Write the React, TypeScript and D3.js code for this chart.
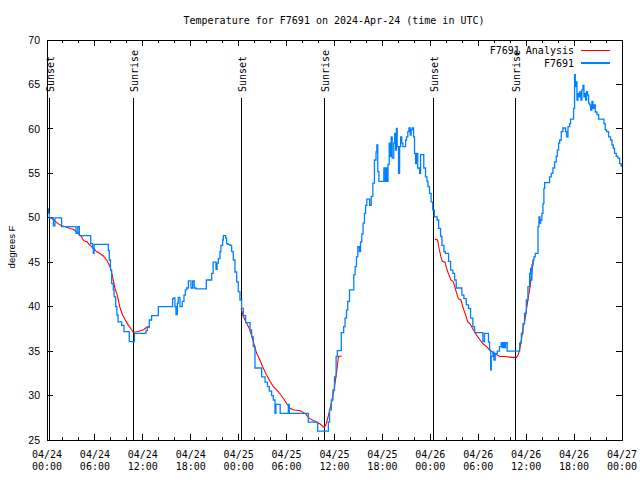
import React from 'react';
import * as d3 from 'd3';

const W = 640;
const H = 480;
const plot = { left: 47, right: 622, top: 40, bottom: 440 };

const titleText = 'Temperature for F7691 on 2024-Apr-24 (time in UTC)';
const yLabelText = 'degrees F';
const yTicks = [25, 30, 35, 40, 45, 50, 55, 60, 65, 70];
const xTickHours = [0, 6, 12, 18, 24, 30, 36, 42, 48, 54, 60, 66, 72];
const xTickDates = ['04/24', '04/24', '04/24', '04/24', '04/25', '04/25', '04/25', '04/25', '04/26', '04/26', '04/26', '04/26', '04/27'];
const xTickTimes = ['00:00', '06:00', '12:00', '18:00', '00:00', '06:00', '12:00', '18:00', '00:00', '06:00', '12:00', '18:00', '00:00'];
const xMinorHours = [2, 4, 8, 10, 14, 16, 20, 22, 26, 28, 32, 34, 38, 40, 44, 46, 50, 52, 56, 58, 62, 64, 68, 70];

const sunLabels = ['Sunset', 'Sunrise', 'Sunset', 'Sunrise', 'Sunset', 'Sunrise'];
const sunHours = [0.29, 10.72, 24.29, 34.72, 48.38, 58.65];

const legendNames = ['F7691 Analysis', 'F7691'];
const legendColors = ['#ff0000', '#0080ff'];

// Observed F7691 (hours since 04/24 00:00 UTC, deg F) – drawn as steps
const observed: [number, number][] = [
  [0, 51], [0.17, 50.5], [0.3, 50], [0.8, 49.1], [1.0, 50], [1.83, 49], [3.63, 48.25], [3.85, 49], [4.05, 48],
  [5.47, 47.1], [5.7, 46.6], [5.8, 46], [5.9, 47], [7.68, 46.3], [7.8, 45.25], [7.95, 44.1], [8.1, 42.6],
  [8.3, 41.9], [8.4, 41.1], [8.6, 40], [8.75, 39.06], [8.9, 38.3], [9.35, 37.9], [9.64, 37.2], [10.3, 36.06],
  [10.95, 37], [12.39, 37.3], [12.56, 37.7], [12.81, 38.5], [13.1, 39], [13.94, 40], [15.73, 40.9], [15.9, 41],
  [16.02, 40], [16.15, 39.1], [16.32, 40.4], [16.44, 41.05], [16.65, 40], [16.94, 40.6], [17.15, 41.3],
  [17.32, 41.9], [17.49, 42.1], [17.7, 42.9], [18.03, 42.1], [18.24, 42.9], [18.44, 42.1], [18.65, 42],
  [19.95, 43], [20.62, 43.75], [20.8, 45], [21.16, 44.2], [21.3, 44.9], [21.45, 45.4], [21.66, 46.2],
  [21.78, 46.9], [21.99, 47.5], [22.08, 48], [22.37, 47.7], [22.49, 47.1], [22.62, 47], [22.91, 46.9],
  [23.12, 46.2], [23.33, 45.25], [23.54, 43.9], [23.75, 42.8], [23.95, 41.7], [24.16, 40.75], [24.37, 39.8],
  [24.58, 39], [24.87, 38.2], [25.42, 37.4], [25.62, 36.6], [25.83, 35.5], [26.04, 33.1], [26.88, 32.1],
  [27.3, 31.5], [27.6, 31], [27.84, 30.5], [28.13, 30], [28.34, 29.5], [28.55, 28], [28.66, 29], [29.2, 28],
  [30.22, 29], [30.34, 28], [32.72, 27], [33.89, 26], [35.23, 27], [35.38, 28.4], [35.6, 29.5], [35.8, 30.6],
  [36.0, 32.1], [36.2, 34.4], [36.35, 35.05], [36.85, 37.08], [37.15, 37.75], [37.32, 38.7], [37.5, 39.6],
  [37.66, 40.6], [37.88, 41.9], [38.42, 43.6], [38.58, 44.5], [38.75, 45.6], [38.92, 46.75], [39.12, 46.2],
  [39.26, 47.3], [39.42, 48.2], [39.58, 49.4], [39.75, 50.5], [39.9, 51.4], [40.05, 52.1], [40.4, 51.4],
  [40.6, 52.4], [40.8, 53.9], [41.0, 56.5], [41.2, 57.4], [41.3, 58.2], [41.42, 55.2], [41.56, 54.1],
  [42.18, 55.6], [42.35, 54.1], [42.48, 55.6], [42.6, 54.1], [42.7, 56], [42.85, 58.4], [42.98, 56.9],
  [43.1, 59.1], [43.22, 56.7], [43.42, 58.4], [43.54, 59.5], [43.65, 57.6], [43.75, 60.06], [43.85, 58],
  [44.02, 55], [44.15, 58], [44.28, 59.1], [44.42, 58.4], [44.56, 58], [44.9, 58.75], [45.02, 59.1],
  [45.18, 59.7], [45.32, 60.1], [45.48, 59.3], [45.6, 59.9], [45.73, 60.1], [45.9, 59.1], [46.02, 57.25],
  [46.15, 56.1], [46.25, 57.25], [46.42, 55.6], [46.65, 55], [46.78, 57.1], [47.18, 55.6], [47.4, 54.6],
  [47.58, 54.1], [47.7, 53.5], [47.9, 52.75], [48.1, 51.8], [48.3, 50.9], [48.5, 50.1], [48.85, 49.75],
  [49.04, 48.8], [49.28, 47.9], [49.45, 46.9], [49.7, 46.2], [49.88, 46], [50.28, 45.1], [50.54, 44.1],
  [50.82, 43.75], [51.04, 43], [51.24, 42.1], [51.95, 41.3], [52.2, 40.9], [52.5, 40.2], [52.78, 39.8],
  [53.04, 38.7], [53.32, 37.75], [53.54, 37.08], [54.58, 36.06], [54.78, 37], [55.28, 36], [55.42, 35.1],
  [55.55, 32.9], [55.63, 34.4], [55.84, 34.9], [55.96, 34], [56.12, 34.75], [56.38, 35], [56.66, 35.5],
  [56.88, 35.95], [57.0, 35.4], [57.16, 35.95], [57.3, 35.4], [57.42, 35.95], [57.62, 35], [59.18, 35.9],
  [59.4, 37], [59.6, 38.1], [59.8, 39.25], [60.02, 40.75], [60.22, 42.25], [60.44, 43.75], [60.56, 44.3],
  [60.64, 43], [60.72, 44.7], [60.85, 45.25], [60.98, 45.6], [61.14, 46], [61.48, 49], [61.6, 50.1],
  [61.72, 49.4], [61.82, 49.75], [61.97, 50.5], [62.1, 51.6], [62.22, 53.3], [62.32, 53.95], [62.93, 54.6],
  [63.14, 55], [63.35, 55.6], [63.56, 56.3], [63.77, 56.9], [63.9, 57.6], [64.06, 58.4], [64.2, 58.75],
  [64.4, 59.7], [64.6, 60.1], [64.94, 59.7], [65.06, 59.1], [65.24, 60.25], [65.44, 60.6], [65.56, 61.1],
  [65.94, 62.3], [66.06, 66.1], [66.15, 64.75], [66.23, 65.3], [66.36, 63.25], [66.48, 64], [66.61, 63.6],
  [66.73, 64.2], [66.86, 63.25], [66.98, 64.4], [67.11, 64.9], [67.23, 63.6], [67.32, 64], [67.44, 63.25],
  [67.57, 64.2], [67.69, 63.8], [67.82, 62.9], [67.94, 62.7], [68.07, 62.1], [68.23, 63.1], [68.36, 62.3],
  [68.49, 62.7], [68.65, 61.9], [68.86, 61.6], [69.07, 61.1], [69.74, 60.6], [69.9, 59.9], [70.07, 59.7],
  [70.32, 59.1], [70.57, 58.75], [70.74, 58.2], [70.91, 57.8], [71.07, 57.25], [71.28, 56.9], [71.49, 56.7],
  [71.7, 56.1], [71.9, 55.8], [72, 55.8],
];

// F7691 Analysis, three night-time segments
const analysisNight1: [number, number][] = [
  [0.4, 50], [0.8, 49.8], [1.3, 49.4], [1.8, 49.1], [2.3, 49.0], [2.9, 48.8], [3.3, 48.7], [3.7, 48.4], [4.3, 47.9],
  [4.6, 47.4], [5.0, 47.3], [5.4, 46.9], [5.8, 46.6], [6.2, 46.2], [6.6, 46.0], [7.05, 45.7], [7.5, 45.2],
  [7.9, 44.5], [8.2, 43.4], [8.5, 42.1], [8.8, 41.3], [9.1, 40.0], [9.45, 39.1], [9.8, 38.5], [10.2, 37.9],
  [10.6, 37.4], [10.8, 37.1], [11.4, 37.2], [12.1, 37.4], [12.5, 37.7], [12.9, 37.75],
];
const analysisNight2: [number, number][] = [
  [24.3, 39.8], [24.58, 38.9], [24.9, 38.3], [25.3, 37.6], [25.6, 36.8], [25.95, 35.7], [26.25, 34.75],
  [26.66, 34.0], [27.0, 33.25], [27.5, 32.3], [27.92, 31.6], [28.34, 31.0], [29.0, 30.4], [29.6, 29.7],
  [30.0, 29.1], [30.4, 28.6], [30.8, 28.4], [31.7, 28.3], [32.3, 28.0], [32.9, 27.4], [33.55, 27.1],
  [34.2, 26.8], [34.72, 26.4], [35.0, 26.9], [35.3, 28.0], [35.64, 29.3], [35.93, 30.6], [36.18, 32.1],
  [36.35, 33.25], [36.5, 34.4], [36.9, 34.45],
];
const analysisNight3: [number, number][] = [
  [48.58, 47.6], [48.9, 47.5], [49.08, 46.6], [49.33, 45.6], [49.5, 45.1], [49.83, 45.0], [50.05, 44.3],
  [50.25, 43.75], [50.58, 43.0], [50.88, 42.8], [51.17, 41.9], [51.5, 40.9], [51.84, 40.75], [52.13, 39.8],
  [52.42, 39.06], [52.67, 38.3], [52.96, 38.1], [53.38, 37.4], [53.8, 36.8], [54.22, 36.25], [54.63, 35.8],
  [55.05, 35.5], [55.47, 35.1], [55.89, 34.8], [56.3, 34.6], [56.72, 34.4], [57.35, 34.4], [58.18, 34.3],
  [58.8, 34.3], [59.0, 34.6], [59.22, 35.3], [59.43, 36.4], [59.64, 37.75], [59.85, 38.5], [60.06, 39.8],
  [60.27, 41.1], [60.48, 42.2], [60.69, 43.75], [60.9, 45.2],
];

const MONO = '"DejaVu Sans Mono", "Liberation Mono", monospace';
const SANS = '"Liberation Sans", Arial, sans-serif';

export default function App() {
  const x = d3.scaleLinear().domain([0, 72]).range([plot.left, plot.right]);
  const y = d3.scaleLinear().domain([25, 70]).range([plot.bottom, plot.top]);

  const stepLine = d3
    .line<[number, number]>()
    .x((d) => x(d[0]))
    .y((d) => y(d[1]))
    .curve(d3.curveStepAfter);
  const line = d3
    .line<[number, number]>()
    .x((d) => x(d[0]))
    .y((d) => y(d[1]));

  const majorLen = 6;
  const minorLen = 3;
  const yTickLen = 6;

  return (
    <svg
      width={W}
      height={H}
      style={{ position: 'absolute', left: 0, top: 0, background: '#fff' }}
      shapeRendering="crispEdges"
    >
      <rect x={0} y={0} width={W} height={H} fill="#fff" />
      <text x={334} y={24} textAnchor="middle" fontFamily={MONO} fontSize={10} fill="#000">
        {titleText}
      </text>

      {/* y ticks and labels */}
      {yTicks.map((t) => (
        <g key={'y' + t}>
          <line x1={plot.left} x2={plot.left + yTickLen} y1={y(t)} y2={y(t)} stroke="#000" />
          <line x1={plot.right} x2={plot.right - yTickLen} y1={y(t)} y2={y(t)} stroke="#000" />
          <text x={40} y={y(t)} dy="0.35em" textAnchor="end" fontFamily={SANS} fontSize={10.5} fill="#000">
            {t}
          </text>
        </g>
      ))}
      <text
        transform={`translate(11,247) rotate(-90)`}
        textAnchor="middle"
        dominantBaseline="central"
        fontFamily={SANS}
        fontSize={9.5}
        fill="#000"
      >
        {yLabelText}
      </text>

      {/* x ticks */}
      {xTickHours.map((h, i) => (
        <g key={'x' + h}>
          <line x1={x(h)} x2={x(h)} y1={plot.bottom} y2={plot.bottom - majorLen} stroke="#000" />
          <line x1={x(h)} x2={x(h)} y1={plot.top} y2={plot.top + majorLen} stroke="#000" />
          <text x={x(h)} y={458} textAnchor="middle" fontFamily={MONO} fontSize={10} fill="#000">
            {xTickDates[i]}
          </text>
          <text x={x(h)} y={470} textAnchor="middle" fontFamily={MONO} fontSize={10} fill="#000">
            {xTickTimes[i]}
          </text>
        </g>
      ))}
      {xMinorHours.map((h) => (
        <g key={'m' + h}>
          <line x1={x(h)} x2={x(h)} y1={plot.bottom} y2={plot.bottom - minorLen} stroke="#000" />
          <line x1={x(h)} x2={x(h)} y1={plot.top} y2={plot.top + minorLen} stroke="#000" />
        </g>
      ))}

      {/* sunrise / sunset markers */}
      {sunHours.map((h, i) => (
        <g key={'s' + i}>
          <line x1={Math.round(x(h)) + 0.5} x2={Math.round(x(h)) + 0.5} y1={98} y2={plot.bottom} stroke="#000" />
          <text
            transform={`translate(${x(h) + 1.5},92) rotate(-90)`}
            textAnchor="start"
            dominantBaseline="central"
            fontFamily={MONO}
            fontSize={10}
            fill="#000"
          >
            {sunLabels[i]}
          </text>
        </g>
      ))}

      {/* data */}
      <g shapeRendering="auto">
        {[analysisNight1, analysisNight2, analysisNight3].map((seg, i) => (
          <path key={'a' + i} d={line(seg) || ''} fill="none" stroke={legendColors[0]} strokeWidth={1.1} />
        ))}
        <path d={stepLine(observed) || ''} fill="none" stroke={legendColors[1]} strokeWidth={1.3} />
      </g>

      {/* border */}
      <rect
        x={plot.left}
        y={plot.top}
        width={plot.right - plot.left}
        height={plot.bottom - plot.top}
        fill="none"
        stroke="#000"
      />

      {/* legend */}
      {legendNames.map((n, i) => (
        <g key={'l' + i}>
          <text x={574} y={54 + i * 12.5} textAnchor="end" fontFamily={MONO} fontSize={10} fill="#000">
            {n}
          </text>
          <line x1={581} x2={610} y1={50.5 + i * 12.5} y2={50.5 + i * 12.5} stroke={legendColors[i]} strokeWidth={1.3} />
        </g>
      ))}
    </svg>
  );
}
